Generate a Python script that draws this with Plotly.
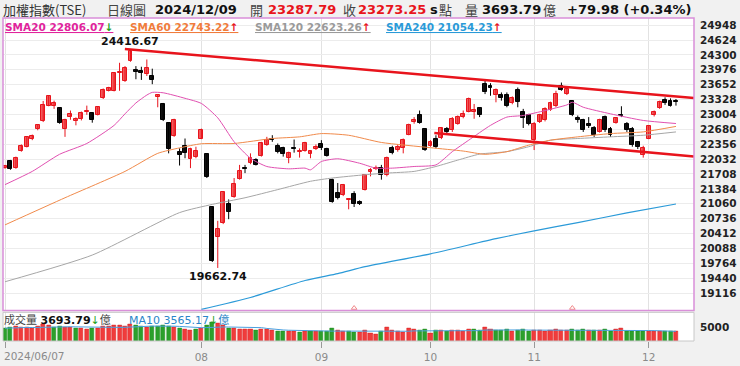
import plotly.graph_objects as go

# ---------------- data ----------------
jun = [7, 11, 12, 13, 14, 17, 18, 19, 20, 21, 24, 25, 26, 27, 28]
jul = [1, 2, 3, 4, 5, 8, 9, 10, 11, 12, 15, 16, 17, 18, 19, 22, 23, 26, 29, 30, 31]
aug = [1, 2, 5, 6, 7, 8, 9, 12, 13, 14, 15, 16, 19, 20, 21, 22, 23, 26, 27, 28, 29, 30]
sep = [2, 3, 4, 5, 6, 9, 10, 11, 12, 13, 16, 18, 19, 20, 23, 24, 25, 26, 27, 30]
octo = [1, 4, 7, 8, 9, 11, 14, 15, 16, 17, 18, 21, 22, 23, 24, 25, 28, 29, 30]
nov = [1, 4, 5, 6, 7, 8, 11, 12, 13, 14, 15, 18, 19, 20, 21, 22, 25, 26, 27, 28, 29]
dec = [2, 3, 4, 5, 6, 9]
month_days = [(6, jun), (7, jul), (8, aug), (9, sep), (10, octo), (11, nov), (12, dec)]
dates = [f"2024-{m:02d}-{d:02d}" for m, ds in month_days for d in ds]

opens = [21849, 21992, 21835, 22207, 22301, 22480, 22680, 22852, 23197, 23182,
         23139, 22695, 22939, 22860, 22895, 23053, 23032, 22996, 23354, 23519,
         23519, 23899, 23734, 24164, 23970, 23949, 23892, 23841, 23376, 23232,
         22824, 22537, 22193, 22322, 22035, 22079, 22480, 22143, 20989, 20344,
         20638, 21061, 21211, 21605, 21849, 21942, 22014, 22107, 22336, 22480,
         22322, 22265, 22050, 22279, 22186, 22207, 22136, 22250, 22351, 22251,
         21584, 21297, 21247, 21132, 21276, 21104, 21369, 21742, 21806, 21835,
         21677, 22265, 22229, 22279, 22566, 22838, 22981, 22680, 22322, 22480,
         22494, 22695, 22659, 22800, 22946, 23067, 23050, 23139, 23662, 23626,
         23426, 23426, 23426, 23247, 23540, 23067, 22981, 22444, 22838, 22874,
         23103, 23182, 23626, 23447, 23290, 22924, 22874, 22802, 22709, 22623,
         22946, 22695, 22824, 22996, 22802, 22695, 22394, 22122, 22480, 22981,
         23139, 23325, 23304, 23287.79]
highs = [21906, 22014, 22086, 22351, 22530, 22566, 22788, 23297, 23426, 23304,
         23161, 22910, 23089, 22939, 23067, 23196, 23053, 23182, 23569, 23605,
         23913, 24128, 24056, 24416.67, 24056, 24042, 24200, 24000, 23447, 23254,
         22838, 22910, 22265, 22480, 22279, 22301, 22695, 22157, 21011, 20688,
         21333, 21154, 21620, 21906, 21906, 22157, 22050, 22408, 22516, 22552,
         22372, 22301, 22193, 22458, 22265, 22408, 22229, 22351, 22444, 22279,
         21606, 21512, 21491, 21176, 21333, 21133, 21706, 21835, 21892, 21906,
         22086, 22322, 22351, 22480, 22802, 22946, 23089, 22709, 22444, 22551,
         22731, 22731, 22946, 22981, 23089, 23370, 23232, 23160, 23734, 23684,
         23569, 23483, 23483, 23397, 23590, 23125, 23017, 22838, 23017, 23160,
         23282, 23519, 23698, 23590, 23304, 22981, 22910, 22946, 22752, 22910,
         22981, 22731, 22946, 23182, 22838, 22731, 22422, 22322, 22766, 23089,
         23304, 23376, 23354, 23340]
lows = [21821, 21799, 21821, 22193, 22286, 22444, 22659, 22838, 23182, 23125,
        22802, 22516, 22888, 22767, 22874, 22996, 22824, 22982, 23340, 23505,
        23505, 23519, 23712, 24150, 23770, 23755, 23841, 23662, 23160, 22860,
        22157, 22516, 21892, 22050, 21835, 22050, 22466, 21620, 19792, 19662.74,
        20617, 20724, 21190, 21584, 21727, 21921, 21892, 22086, 22322, 22408,
        22157, 22086, 21942, 22172, 22064, 22193, 22050, 22229, 22229, 22086,
        21082, 21154, 21226, 20939, 20989, 21032, 21347, 21656, 21792, 21584,
        21656, 22136, 22193, 22157, 22551, 22802, 22802, 22208, 22301, 22265,
        22466, 22587, 22623, 22780, 22920, 23050, 22910, 22946, 23447, 23411,
        23268, 23304, 23160, 23225, 23160, 22709, 22766, 22229, 22817, 22852,
        23082, 23160, 23519, 23426, 22967, 22824, 22623, 22709, 22515, 22609,
        22623, 22515, 22802, 22946, 22623, 22301, 22250, 22064, 22465, 22960,
        23125, 23211, 23175, 23196]
closes = [21885, 21813, 22064, 22322, 22508, 22530, 22766, 23218, 23397, 23254,
          22817, 22874, 23010, 22910, 23039, 23089, 22874, 23161, 23540, 23576,
          23900, 23927, 24021, 24390, 23927, 23899, 24021, 23755, 23426, 22874,
          22250, 22874, 22121, 22157, 22251, 22207, 22659, 21634, 19814, 20509,
          21312, 20889, 21491, 21778, 21813, 22064, 21906, 22372, 22444, 22444,
          22193, 22143, 22157, 22250, 22207, 22372, 22207, 22301, 22265, 22107,
          21104, 21190, 21462, 21154, 21047, 21047, 21677, 21799, 21849, 21677,
          22064, 22157, 22301, 22444, 22781, 22874, 22824, 22229, 22394, 22301,
          22709, 22623, 22910, 22946, 23017, 23340, 23110, 22981, 23497, 23569,
          23540, 23354, 23196, 23354, 23268, 22924, 22802, 22802, 22981, 23125,
          23247, 23447, 23540, 23555, 22981, 22874, 22659, 22752, 22551, 22874,
          22659, 22551, 22924, 22967, 22659, 22336, 22301, 22279, 22752, 23053,
          23268, 23254, 23193.27, 23273.25]
prev_close_before_first = 21902
volumes = [4700, 4900, 5200, 5000, 5000, 4800, 5300, 6200, 5800, 5000,
           5300, 5000, 4900, 4600, 4700, 4400, 4700, 4500, 5400, 5200,
           5600, 5800, 5300, 6000, 5600, 5200, 5100, 5500, 5300, 5900,
           5400, 4900, 4600, 4200, 4000, 4100, 4800, 5900, 7000, 6300,
           5600, 4800, 4500, 4100, 4300, 4200, 3900, 4300, 4100, 3800,
           3700, 3600, 3500, 3400, 3300, 3600, 3400, 3500, 3700, 3500,
           4700, 3800, 3400, 3600, 3300, 3200, 3800, 2700, 2600, 3500,
           4900, 3900, 3400, 3300, 4500, 4400, 3800, 4300, 2900, 3900,
           3900, 3600, 3800, 3900, 3700, 4300, 4200, 3800, 5000, 4300,
           3900, 3800, 4100, 3500, 3900, 4100, 3600, 3800, 3900, 3700,
           3800, 4300, 4000, 3900, 4300, 4000, 4100, 3900, 4000, 3900,
           4200, 3700, 4100, 4700, 3500, 3700, 3500, 3400, 3600, 3700,
           3600, 3400, 3400, 3693.79]

# moving-average lines (trading-day index, value)
sma20_idx = [0, 5, 10, 15, 20, 22, 24, 26, 27, 29, 33, 36, 39, 42, 45, 48, 52, 55, 56, 58,
             61, 65, 68, 71, 75, 79, 82, 85, 89, 92, 95, 99, 103, 104, 106, 111, 117, 123]
sma20_val = [21476, 21764, 22136, 22372, 22766, 23017, 23254, 23426, 23484, 23475, 23355, 23243,
             22930, 22409, 22050, 21871, 21820, 21835, 21798, 21979, 22039, 21942, 21835, 21835,
             21871, 21906, 22194, 22443, 22766, 22946, 22981, 23088, 23211, 23269, 23161, 23017,
             22873, 22806.07]
sma60_idx = [0, 11, 22, 28, 32, 36, 42, 49, 54, 58, 63, 69, 78, 84, 88, 92, 96, 100, 105, 111,
             117, 123]
sma60_val = [20600, 21190, 21764, 22157, 22276, 22366, 22372, 22480, 22516, 22587, 22551, 22394,
             22280, 22207, 22136, 22194, 22336, 22444, 22516, 22587, 22624, 22743.22]
sma120_idx = [0, 16, 32, 38, 44, 50, 56, 60, 66, 70, 75, 79, 83, 87, 92, 96, 100, 105, 111, 117,
              123]
sma120_val = [19362, 19943, 20867, 21046, 21190, 21368, 21549, 21620, 21691, 21728, 21764, 21871,
              22010, 22140, 22194, 22301, 22443, 22480, 22516, 22551, 22623.26]
sma240_idx = [36, 45, 55, 61, 66, 78, 90, 97, 105, 114, 123]
sma240_val = [18760, 19020, 19390, 19540, 19690, 19970, 20300, 20470, 20650, 20860, 21054.23]

# hand-drawn trend lines (index, value)
upper_line_idx = [21.97, 126.3]
upper_line_val = [24430, 23361]
lower_line_idx = [78.7, 126.3]
lower_line_val = [22602, 22086]

event_idx = [64, 104]

y_ticks = [19116, 19440, 19764, 20088, 20412, 20736, 21060, 21384, 21708, 22032,
           22356, 22680, 23004, 23328, 23652, 23976, 24300, 24624, 24948]
month_labels = ["2024/06/07", "08", "09", "10", "11", "12"]
labelled_months = ["06", "08", "09", "10", "11", "12"]

# ---------------- layout helpers ----------------
W, H = 740, 366
ML, MR, MT, MB = 3, 45, 18, 21
PW, PH = W - ML - MR, H - MT - MB


def px(x):
    return (x - ML) / PW


def py(y):
    return (H - MB - y) / PH


main_dom = [py(314), 1]
vol_dom = [0, py(316)]

n = len(dates)
idx = list(range(n))
month_start = [0] + [i for i in range(1, n) if dates[i][5:7] != dates[i - 1][5:7]]
tick_idx = [i for i in month_start if dates[i][5:7] in labelled_months]

RED = "#e8141c"
GREEN = "#22a022"

fig = go.Figure()

# wicks
for up in (True, False):
    xs, ys = [], []
    for i in idx:
        if (closes[i] >= opens[i]) == up:
            xs += [i, i, None]
            ys += [lows[i], highs[i], None]
    fig.add_trace(go.Scatter(x=xs, y=ys, mode="lines", hoverinfo="skip",
                             line=dict(color=RED if up else "#000000", width=1),
                             showlegend=False, xaxis="x", yaxis="y"))

# bodies
for up in (True, False):
    bx = [i for i in idx if (closes[i] >= opens[i]) == up]
    base = [min(opens[i], closes[i]) for i in bx]
    hgt = [max(abs(closes[i] - opens[i]), 12) for i in bx]
    fig.add_trace(go.Bar(x=bx, y=hgt, base=base, width=0.72,
                         marker=dict(color="#f25a5c" if up else "#111111",
                                     line=dict(color=RED if up else "#000000", width=1)),
                         showlegend=False, xaxis="x", yaxis="y"))

# moving averages
for xi, yv, col, w in [(sma120_idx, sma120_val, "#a6a6a6", 1),
                       (sma240_idx, sma240_val, "#2b9ad8", 1.2),
                       (sma60_idx, sma60_val, "#f08a4b", 1),
                       (sma20_idx, sma20_val, "#e050b0", 1)]:
    fig.add_trace(go.Scatter(x=xi, y=yv, mode="lines",
                             line=dict(color=col, width=w, shape="spline", smoothing=0.6),
                             showlegend=False, hoverinfo="skip", xaxis="x", yaxis="y"))

# trend lines
for xi, yv in [(upper_line_idx, upper_line_val), (lower_line_idx, lower_line_val)]:
    fig.add_trace(go.Scatter(x=xi, y=yv, mode="lines", line=dict(color=RED, width=2.5),
                             showlegend=False, hoverinfo="skip", xaxis="x", yaxis="y"))

# event markers
fig.add_trace(go.Scatter(x=event_idx, y=[18790] * len(event_idx), mode="markers",
                         marker=dict(symbol="triangle-up-open", size=5, color="#f08888"),
                         showlegend=False, hoverinfo="skip", xaxis="x", yaxis="y"))

# volume
prev = [prev_close_before_first] + closes[:-1]
vcol = ["#f03c3c" if closes[i] >= prev[i] else "#2ca02c" for i in idx]
vline = ["#d82020" if closes[i] >= prev[i] else "#1e8a1e" for i in idx]
fig.add_trace(go.Bar(x=idx, y=volumes, width=0.74,
                     marker=dict(color=vcol, line=dict(color=vline, width=0.5)),
                     showlegend=False, xaxis="x2", yaxis="y2"))
ma10 = [sum(volumes[max(0, i - 9):i + 1]) / len(volumes[max(0, i - 9):i + 1]) for i in idx]
fig.add_trace(go.Scatter(x=idx, y=ma10, mode="lines", line=dict(color="#4aa0e0", width=1),
                         showlegend=False, hoverinfo="skip", xaxis="x2", yaxis="y2"))

xr = [(ML - 5) / 5.463, (ML + PW - 5) / 5.463]
NUMF = "DejaVu Sans"
CJK = "Noto Sans CJK TC"

fig.update_layout(
    width=W, height=H, margin=dict(l=ML, r=MR, t=MT, b=MB),
    paper_bgcolor="#f1f1f1", plot_bgcolor="#ffffff", barmode="overlay", bargap=0,
    showlegend=False,
    xaxis=dict(domain=[0, 1], range=xr, anchor="y", tickvals=tick_idx, showticklabels=False,
               showgrid=True, gridcolor="#e2e2e2", gridwidth=1, zeroline=False, ticks=""),
    yaxis=dict(domain=main_dom, range=[18739, 25103], side="right", tickvals=y_ticks,
               ticktext=[str(v) for v in y_ticks], showgrid=True, gridcolor="#ececec",
               zeroline=False, tickfont=dict(family=NUMF, size=10.5, color="#222222", weight="bold"),
               ticks="", ticklabelstandoff=5),
    xaxis2=dict(domain=[0, 1], range=xr, anchor="y2", tickvals=tick_idx,
                ticktext=[""] + month_labels[1:], ticks="outside", ticklen=6, tickcolor="#999999",
                showgrid=True, gridcolor="#e2e2e2", zeroline=False,
                tickfont=dict(family=NUMF, size=10.5, color="#8a8a8a")),
    yaxis2=dict(domain=vol_dom, range=[0, 10500], side="right", tickvals=[5000], ticktext=["5000"],
                showgrid=False, zeroline=False, ticks="", ticklabelstandoff=5,
                tickfont=dict(family=NUMF, size=10.5, color="#222222", weight="bold")),
)

shapes = [
    dict(type="rect", xref="paper", yref="paper", x0=0, x1=1, y0=main_dom[0], y1=1,
         line=dict(color="#d98fd9", width=1.5), fillcolor="rgba(0,0,0,0)"),
    dict(type="rect", xref="paper", yref="paper", x0=0, x1=1, y0=0, y1=vol_dom[1],
         line=dict(color="#c8c8c8", width=1), fillcolor="rgba(0,0,0,0)"),
]
fig.update_layout(shapes=shapes)

ann = []


def t(x, y, text, color="#222222", size=13, family=NUMF, bold=False, xanchor="left"):
    ann.append(dict(x=px(x), y=py(y), xref="paper", yref="paper", text=text, showarrow=False,
                    xanchor=xanchor, yanchor="middle",
                    font=dict(family=family, size=size, color=color, weight="bold" if bold else "normal")))


# header
t(1, 9, "加權指數(TSE)", "#333333", 13, CJK)
t(105, 9, "日線圖", "#444444", 13, CJK)
t(153, 9, "2024/12/09", "#111111", 13, NUMF, True)
t(248, 9, "開", "#444444", 13, CJK)
t(266, 9, "23287.79", RED, 13, NUMF, True)
t(341, 9, "收", "#444444", 13, CJK)
t(357, 9, "23273.25", RED, 13, NUMF, True)
t(429, 9, "s", "#111111", 13, NUMF, True)
t(438, 9, "點", "#444444", 13, CJK)
t(464, 9, "量", "#444444", 13, CJK)
t(481, 9, "3693.79", "#111111", 13, NUMF, True)
t(542, 9, "億", "#444444", 13, CJK)
t(566, 9, "+79.98 (+0.34%)", "#111111", 13, NUMF, True)

# SMA legend
legend = [(3, "SMA20 22806.07", "#e0249c", "↓", GREEN),
          (128, "SMA60 22743.22", "#f07c3c", "↑", RED),
          (253, "SMA120 22623.26", "#9a9a9a", "↑", RED),
          (385, "SMA240 21054.23", "#2a9ad8", "↑", RED)]
for x0, txt, col, arr, acol in legend:
    ann.append(dict(x=px(x0), y=py(27), xref="paper", yref="paper", showarrow=False,
                    xanchor="left", yanchor="middle",
                    text=f"<u>{txt}<span style='color:{acol}'>{arr}</span></u>",
                    font=dict(family=NUMF, size=10.5, color=col, weight="bold")))

# volume legend
ann.append(dict(x=px(2), y=py(323), xref="paper", yref="paper", showarrow=False, xanchor="left",
                yanchor="middle",
                text="<span style='font-family:Noto Sans CJK TC;color:#444'>成交量</span> "
                     "<b>3693.79</b><span style='color:#22a022'>↓</span>"
                     "<span style='font-family:Noto Sans CJK TC;color:#444'>億</span>",
                font=dict(family=NUMF, size=11, color="#111111")))
ann.append(dict(x=px(127), y=py(323), xref="paper", yref="paper", showarrow=False, xanchor="left",
                yanchor="middle",
                text="MA10 3565.17<span style='color:#22a022'>↓</span>"
                     "<span style='font-family:Noto Sans CJK TC'>億</span>",
                font=dict(family=NUMF, size=11, color="#2a86c8")))

# first date label
t(2, 360, month_labels[0], "#8a8a8a", 10.5, NUMF)

# extreme labels
hi_i = highs.index(max(highs))
lo_i = lows.index(min(lows))
ann.append(dict(x=hi_i, y=highs[hi_i], xref="x", yref="y", text=f"{highs[hi_i]:.2f}", showarrow=False,
                yanchor="bottom", xanchor="center", yshift=0,
                font=dict(family=NUMF, size=11, color="#111111", weight="bold")))
ann.append(dict(x=lo_i, y=lows[lo_i], xref="x", yref="y", text=f"{lows[lo_i]:.2f}", showarrow=False,
                yanchor="top", xanchor="center", yshift=0,
                font=dict(family=NUMF, size=11, color="#111111", weight="bold")))

fig.update_layout(annotations=ann)
fig.write_html("out.html", config={"displayModeBar": False},
               post_script="document.body.style.margin='0px';document.body.style.padding='0px';")
